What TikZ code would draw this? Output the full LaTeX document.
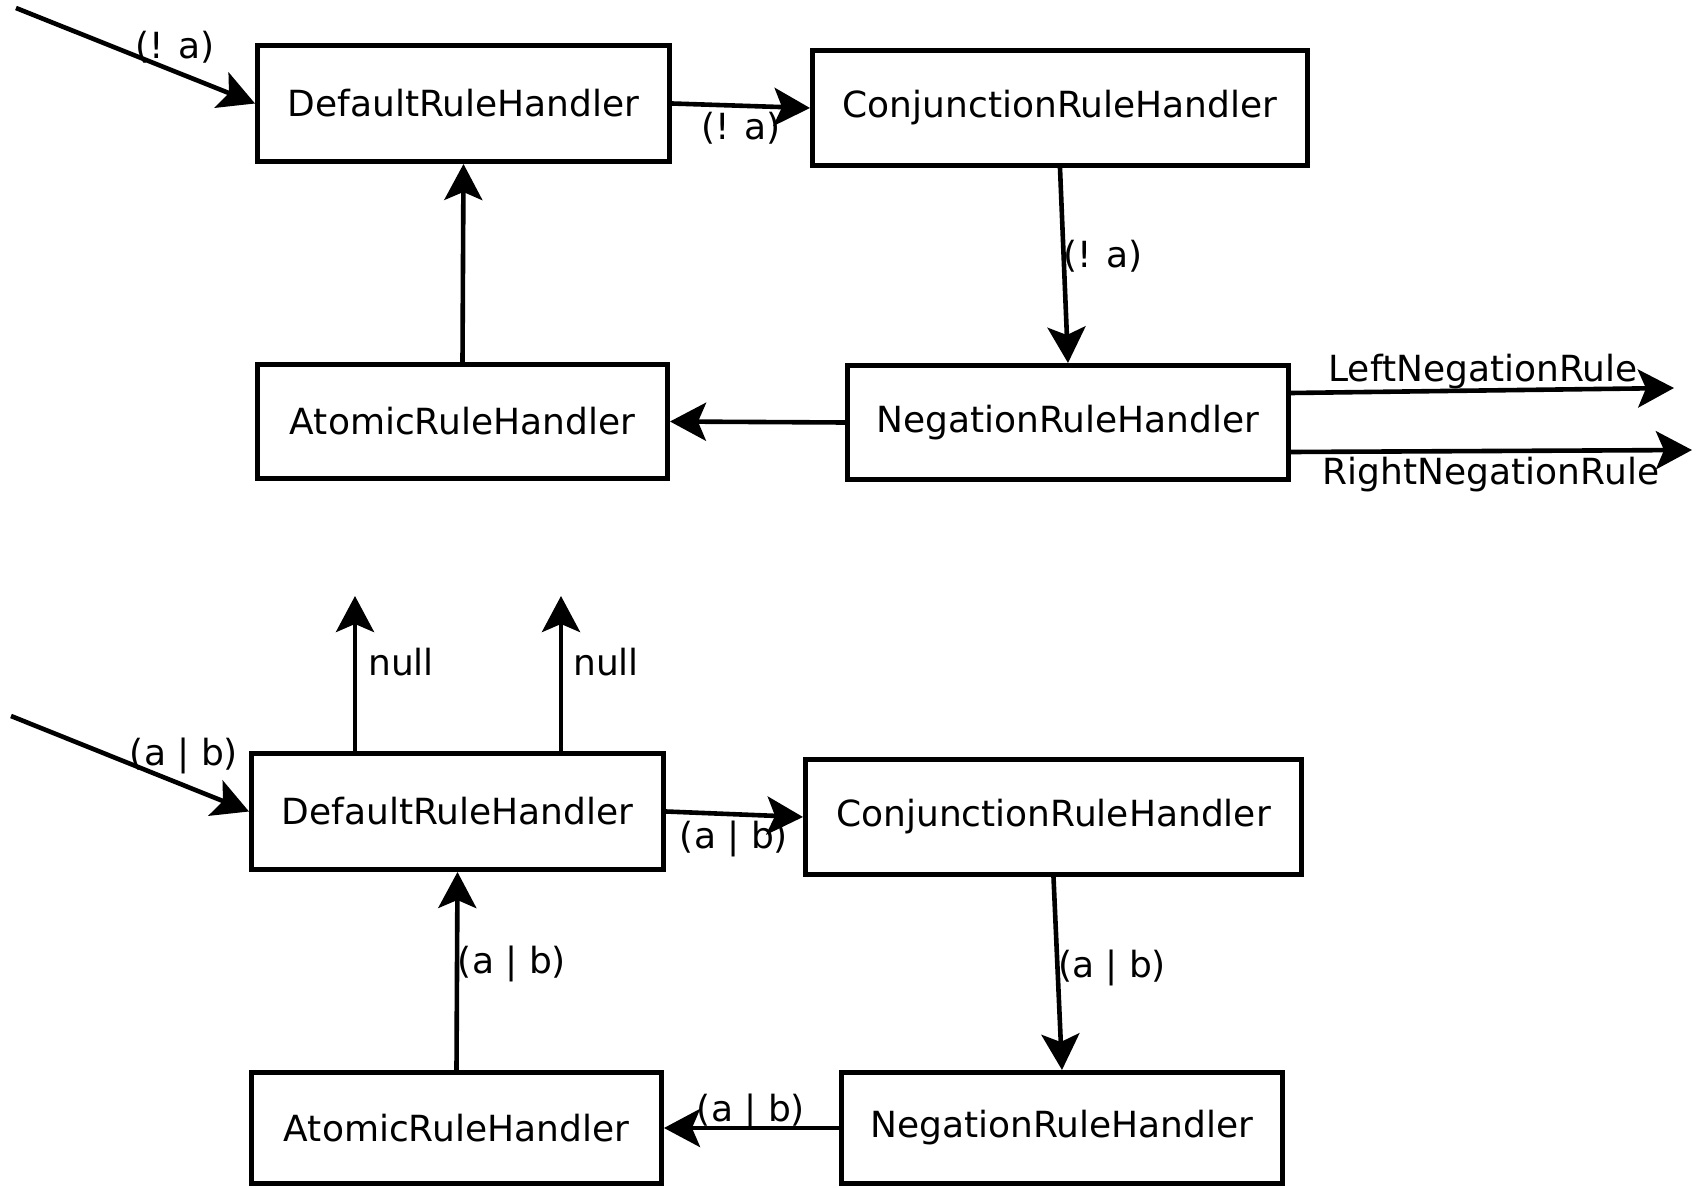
\documentclass[tikz,border=0pt]{standalone}
\usepackage{fontspec}
\setmainfont{DejaVu Sans}
\usetikzlibrary{arrows.meta}
\begin{document}
\begin{tikzpicture}[x=0.5pt,y=-0.5pt,
  handler/.style={draw=black, line width=2.5pt, fill=white, inner sep=0pt,
    font=\fontsize{18}{22}\selectfont},
  flow/.style={line width=2.3pt, -{Stealth[length=18pt,width=19pt,inset=4pt]}},
  lbl/.style={inner sep=0pt, font=\fontsize{18}{22}\selectfont}]
\useasboundingbox (0,0) rectangle (1699,1188);
\fill[white] (0,0) rectangle (1699,1188);

% ---- negation example: (! a) ----
\node[handler, minimum width=206pt, minimum height=58pt] (d1) at (463.5,103.5) {DefaultRuleHandler};
\node[handler, minimum width=247.5pt, minimum height=57.5pt] (c1) at (1060,108) {ConjunctionRuleHandler};
\node[handler, minimum width=205pt, minimum height=57pt] (a1) at (462.5,421.5) {AtomicRuleHandler};
\node[handler, minimum width=220.5pt, minimum height=57pt] (n1) at (1068,422.5) {NegationRuleHandler};

\coordinate (in1) at (16,8);
\coordinate (lt) at (1674,388);
\coordinate (rt) at (1692,450);

\draw[flow] (in1) -- (d1.west);
\draw[flow] (d1.east) -- (c1.west);
\draw[flow] (c1.south) -- (n1.north);
\draw[flow] (n1.west) -- (a1.east);
\draw[flow] (a1.north) -- (d1.south);
\draw[flow] ([yshift=14.75pt]n1.east) -- (lt);
\draw[flow] ([yshift=-14.75pt]n1.east) -- (rt);

\node[lbl] (l1) at (175,47) {(! a)};
\node[lbl] (l2) at (741,128) {(! a)};
\node[lbl] (l3) at (1103,256) {(! a)};
\node[lbl] (lL) at (1483,372) {LeftNegationRule};
\node[lbl] (lR) at (1491,475) {RightNegationRule};

% ---- disjunction example: (a | b) ----
\node[handler, minimum width=206pt, minimum height=58pt] (d2) at (457.5,811.5) {DefaultRuleHandler};
\node[handler, minimum width=248pt, minimum height=57.5pt] (c2) at (1053.5,817) {ConjunctionRuleHandler};
\node[handler, minimum width=205pt, minimum height=55.5pt] (a2) at (456.5,1128) {AtomicRuleHandler};
\node[handler, minimum width=220.5pt, minimum height=55.5pt] (n2) at (1062,1128) {NegationRuleHandler};

\coordinate (in2) at (11,716);
\coordinate (nt1) at (355,596);
\coordinate (nt2) at (561,596);

\draw[flow] (in2) -- (d2.west);
\draw[flow] ([xshift=-51.25pt]d2.north) -- (nt1);
\draw[flow] ([xshift=51.75pt]d2.north) -- (nt2);
\draw[flow] (d2.east) -- (c2.west);
\draw[flow] (c2.south) -- (n2.north);
\draw[flow] (n2.west) -- (a2.east);
\draw[flow] (a2.north) -- (d2.south);

\node[lbl] (m1) at (184,756) {(a | b)};
\node[lbl] (u1) at (401,662) {null};
\node[lbl] (u2) at (606,662) {null};
\node[lbl] (m2) at (734,839) {(a | b)};
\node[lbl] (m3) at (512,964) {(a | b)};
\node[lbl] (m4) at (1112,968) {(a | b)};
\node[lbl] (m5) at (751,1112) {(a | b)};
\end{tikzpicture}
\end{document}
